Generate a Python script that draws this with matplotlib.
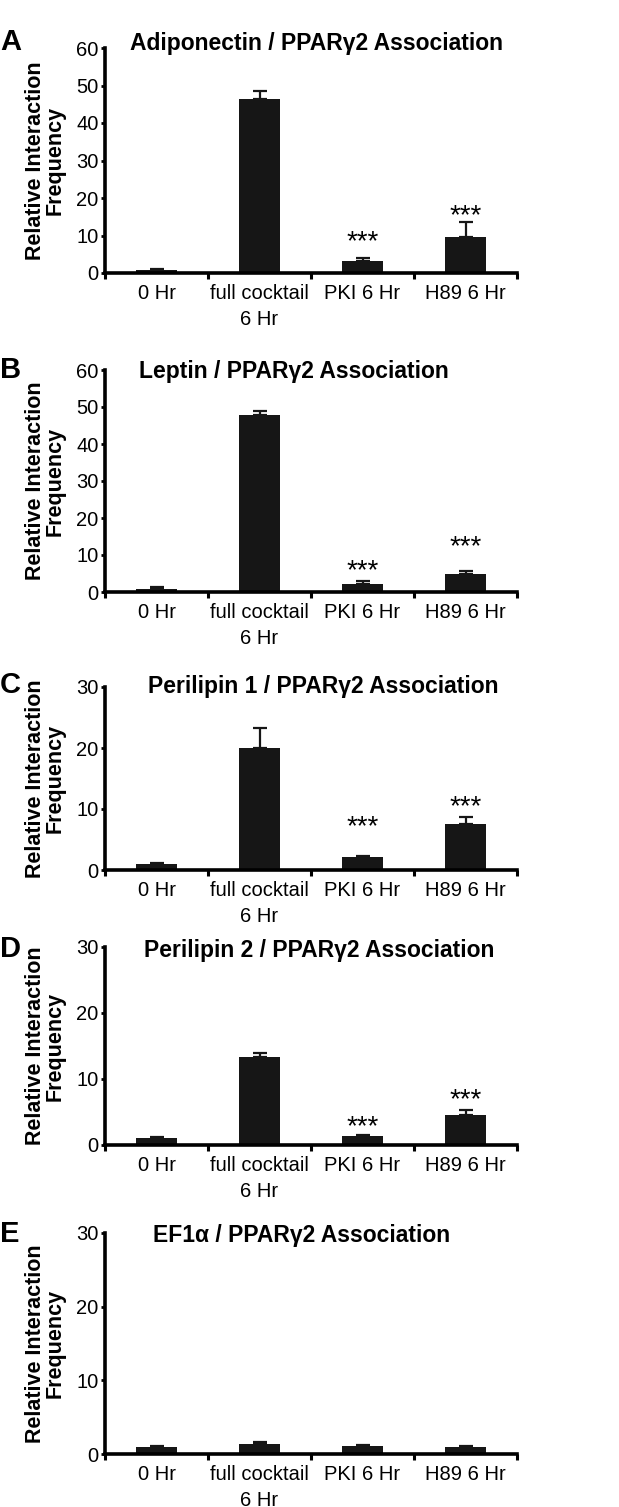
import numpy as np
import matplotlib
matplotlib.use('Agg')
import matplotlib.pyplot as plt

plt.rcParams['font.family'] = ['Liberation Sans', 'DejaVu Sans']

# ---- data ----
groups = ['0 Hr', 'full cocktail\n6 Hr', 'PKI 6 Hr', 'H89 6 Hr']
letters = ['A', 'B', 'C', 'D', 'E']
titles = ['Adiponectin / PPAR\u03b32 Association',
          'Leptin / PPAR\u03b32 Association',
          'Perilipin 1 / PPAR\u03b32 Association',
          'Perilipin 2 / PPAR\u03b32 Association',
          'EF1\u03b1 / PPAR\u03b32 Association']

adipo_mean = [0.8, 46.3, 3.3, 9.5]
adipo_err = [0.4, 2.2, 0.8, 4.0]
leptin_mean = [0.9, 47.8, 2.1, 4.8]
leptin_err = [0.4, 1.1, 0.9, 0.8]
plin1_mean = [1.0, 20.0, 2.2, 7.5]
plin1_err = [0.15, 3.3, 0.1, 1.2]
plin2_mean = [1.0, 13.3, 1.3, 4.5]
plin2_err = [0.2, 0.6, 0.15, 0.8]
ef1a_mean = [1.0, 1.3, 1.1, 1.0]
ef1a_err = [0.1, 0.35, 0.1, 0.15]

means = [adipo_mean, leptin_mean, plin1_mean, plin2_mean, ef1a_mean]
errs = [adipo_err, leptin_err, plin1_err, plin2_err, ef1a_err]
ymax = [60, 60, 30, 30, 30]
# significance marks (group index, height of mark)
stars = [[(2, 10.7), (3, 17.6)],
         [(2, 8.1), (3, 14.6)],
         [(2, 8.5), (3, 11.75)],
         [(2, 4.0), (3, 8.2)],
         []]

# ---- layout in pixels ----
W, H = 619, 1507
ax_left, ax_right = 105, 517
ax_top = [48, 370, 687, 947, 1233]
ax_zero = [273, 592, 870, 1145, 1454]
title_base = [50, 378, 693, 957, 1242]
title_cx = [317, 294, 323, 319, 302]

fig = plt.figure(figsize=(W / 100, H / 100), dpi=100)
x = np.arange(len(groups))

for i in range(5):
    ax = fig.add_axes([ax_left / W, 1 - ax_zero[i] / H,
                       (ax_right - ax_left) / W, (ax_zero[i] - ax_top[i]) / H])
    ax.bar(x, means[i], width=0.39, color='#161616', zorder=2)
    ax.errorbar(x, means[i], yerr=[np.zeros(4), errs[i]], fmt='none',
                ecolor='#161616', elinewidth=1.6, capsize=5, capthick=1.6, zorder=1)
    for g, h in stars[i]:
        ax.annotate('***', (x[g], h), xytext=(0, -11.5), textcoords='offset points',
                    ha='center', va='baseline', fontsize=20)
    ax.set_xlim(-0.5, 3.5)
    ax.set_ylim(0, ymax[i])
    ax.set_yticks(np.arange(0, ymax[i] + 1, 10))
    ax.set_xticks(x)
    ax.set_xticklabels(groups, fontsize=14.5, linespacing=1.45)
    ax.set_xticks(np.arange(-0.5, 4, 1), minor=True)
    ax.tick_params(axis='x', which='major', length=0, pad=8)
    ax.tick_params(axis='x', which='minor', length=4, width=2.2, direction='out')
    ax.tick_params(axis='y', length=3, width=2, direction='out', pad=1.5,
                   labelsize=14.5)
    for s in ['top', 'right']:
        ax.spines[s].set_visible(False)
    for s in ['left', 'bottom']:
        ax.spines[s].set_linewidth(2.6)
    ax.text((45 - ax_left) / (ax_right - ax_left), 0.5,
            'Relative Interaction\nFrequency', transform=ax.transAxes,
            rotation=90, ha='center', va='center', multialignment='center',
            fontsize=15.5, fontweight='bold', linespacing=0.9)
    fig.text(title_cx[i] / W, 1 - title_base[i] / H, titles[i], ha='center',
             va='baseline', fontsize=16.5, fontweight='bold')
    fig.text(0.0, 1 - title_base[i] / H, letters[i], ha='left',
             va='baseline', fontsize=21, fontweight='bold')

fig.savefig('out.png', dpi=100)
